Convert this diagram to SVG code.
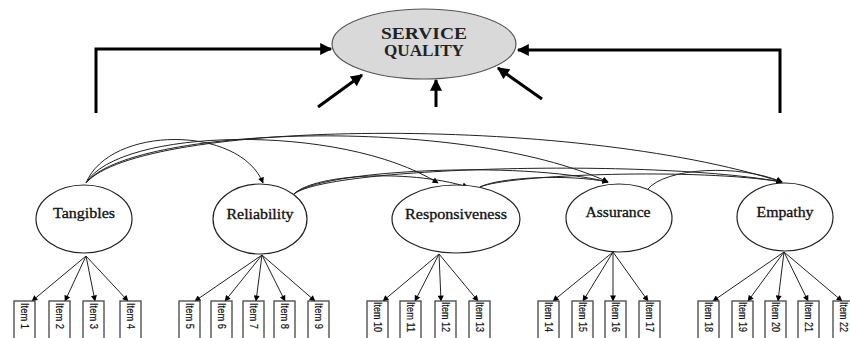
<svg xmlns="http://www.w3.org/2000/svg" width="850" height="338" viewBox="0 0 850 338">
<defs>
<style>
.big{fill:none;stroke:#000;stroke-width:3}
.cov{fill:none;stroke:#222;stroke-width:1}
.load{fill:none;stroke:#222;stroke-width:1}
.fac{fill:#fff;stroke:#222;stroke-width:1.2}
.ft{font-family:"Liberation Serif",serif;font-size:14px;fill:#111;stroke:#111;stroke-width:0.3;text-anchor:middle}
.sq{font-family:"Liberation Serif",serif;font-size:16px;font-weight:bold;fill:#222;text-anchor:middle}
.box{fill:#fff;stroke:#444;stroke-width:1.3}
.it{font-family:"Liberation Sans",sans-serif;font-size:10px;fill:#111;stroke:#111;stroke-width:0.2}
</style>
<marker id="bigA" viewBox="0 0 10 10" refX="9" refY="5" markerWidth="4.5" markerHeight="4" orient="auto" markerUnits="strokeWidth">
<path d="M0,0L10,5L0,10z" fill="#000"/>
</marker>
<marker id="smA" viewBox="0 0 10 10" refX="9" refY="5" markerWidth="7" markerHeight="6" orient="auto" markerUnits="userSpaceOnUse">
<path d="M0,0L10,5L0,10z" fill="#000"/>
</marker>
</defs>
<rect width="850" height="338" fill="#fff"/>

<g id="connectors">
<path class="big" d="M96,113V49H331" marker-end="url(#bigA)"/>
<path class="big" d="M780,113V50H518" marker-end="url(#bigA)"/>
<path class="big" d="M318,107L362,75" marker-end="url(#bigA)"/>
<path class="big" d="M436,107L436,80" marker-end="url(#bigA)"/>
<path class="big" d="M542,99L498,68" marker-end="url(#bigA)"/>

<path class="cov" d="M86,183C110,125 240,125 263,183" marker-end="url(#smA)"/>
<path class="cov" d="M86,183C118,128 340,122 438,183" marker-end="url(#smA)"/>
<path class="cov" d="M86,183C128,127 460,114 608,182" marker-end="url(#smA)"/>
<path class="cov" d="M86,183C140,120 570,114 782,182" marker-end="url(#smA)"/>
<path class="cov" d="M293,195C310,175 405,168 468,187" marker-end="url(#smA)"/>
<path class="cov" d="M293,195C315,170 520,160 608,182" marker-end="url(#smA)"/>
<path class="cov" d="M293,195C320,167 650,158 782,182" marker-end="url(#smA)"/>
<path class="cov" d="M480,187C500,177 570,174 608,182" marker-end="url(#smA)"/>
<path class="cov" d="M480,187C510,174 700,168 782,182" marker-end="url(#smA)"/>
<path class="cov" d="M647,190C665,167 740,164 782,182" marker-end="url(#smA)"/>

<path class="load" d="M86,256L32,301" marker-end="url(#smA)"/>
<path class="load" d="M86,256L65,301" marker-end="url(#smA)"/>
<path class="load" d="M86,256L95,301" marker-end="url(#smA)"/>
<path class="load" d="M86,256L128,301" marker-end="url(#smA)"/>

<path class="load" d="M262,255L195,301" marker-end="url(#smA)"/>
<path class="load" d="M262,255L225,301" marker-end="url(#smA)"/>
<path class="load" d="M262,255L256,301" marker-end="url(#smA)"/>
<path class="load" d="M262,255L285,301" marker-end="url(#smA)"/>
<path class="load" d="M262,255L315,301" marker-end="url(#smA)"/>

<path class="load" d="M439,254L383,301" marker-end="url(#smA)"/>
<path class="load" d="M439,254L415,301" marker-end="url(#smA)"/>
<path class="load" d="M439,254L441,301" marker-end="url(#smA)"/>
<path class="load" d="M439,254L478,301" marker-end="url(#smA)"/>

<path class="load" d="M613,252L553,301" marker-end="url(#smA)"/>
<path class="load" d="M613,252L583,301" marker-end="url(#smA)"/>
<path class="load" d="M613,252L613,301" marker-end="url(#smA)"/>
<path class="load" d="M613,252L648,301" marker-end="url(#smA)"/>

<path class="load" d="M784,252L713,301" marker-end="url(#smA)"/>
<path class="load" d="M784,252L748,301" marker-end="url(#smA)"/>
<path class="load" d="M784,252L778,301" marker-end="url(#smA)"/>
<path class="load" d="M784,252L808,301" marker-end="url(#smA)"/>
<path class="load" d="M784,252L842,301" marker-end="url(#smA)"/>
</g>

<g id="service-quality">
<ellipse cx="424" cy="44" rx="92" ry="35" fill="#d9d9d9" stroke="#555" stroke-width="1.2"/>
<text class="sq" x="424" y="39" textLength="86" lengthAdjust="spacingAndGlyphs">SERVICE</text>
<text class="sq" x="424" y="56" textLength="80" lengthAdjust="spacingAndGlyphs">QUALITY</text>
</g>

<g id="tangibles">
<ellipse class="fac" cx="84" cy="219" rx="48" ry="34"/>
<text class="ft" x="84" y="218" textLength="62" lengthAdjust="spacingAndGlyphs">Tangibles</text>
</g>
<g id="reliability">
<ellipse class="fac" cx="260" cy="219" rx="47" ry="35"/>
<text class="ft" x="260" y="219" textLength="67" lengthAdjust="spacingAndGlyphs">Reliability</text>
</g>
<g id="responsiveness">
<ellipse class="fac" cx="456" cy="219" rx="64" ry="34"/>
<text class="ft" x="456" y="219" textLength="102" lengthAdjust="spacingAndGlyphs">Responsiveness</text>
</g>
<g id="assurance">
<ellipse class="fac" cx="619" cy="218" rx="53" ry="34"/>
<text class="ft" x="618" y="217" textLength="65" lengthAdjust="spacingAndGlyphs">Assurance</text>
</g>
<g id="empathy">
<ellipse class="fac" cx="785" cy="217" rx="48" ry="34"/>
<text class="ft" x="785" y="217" textLength="57" lengthAdjust="spacingAndGlyphs">Empathy</text>
</g>

<g id="item1"><rect class="box" x="14" y="301" width="21" height="40"/><text class="it" transform="translate(21,303) rotate(90)" textLength="26" lengthAdjust="spacingAndGlyphs">Item 1</text></g>
<g id="item2"><rect class="box" x="49" y="301" width="21" height="40"/><text class="it" transform="translate(56,303) rotate(90)" textLength="26" lengthAdjust="spacingAndGlyphs">Item 2</text></g>
<g id="item3"><rect class="box" x="83" y="301" width="21" height="40"/><text class="it" transform="translate(90,303) rotate(90)" textLength="26" lengthAdjust="spacingAndGlyphs">Item 3</text></g>
<g id="item4"><rect class="box" x="120" y="301" width="21" height="40"/><text class="it" transform="translate(127,303) rotate(90)" textLength="26" lengthAdjust="spacingAndGlyphs">Item 4</text></g>
<g id="item5"><rect class="box" x="179" y="301" width="21" height="40"/><text class="it" transform="translate(186,303) rotate(90)" textLength="26" lengthAdjust="spacingAndGlyphs">Item 5</text></g>
<g id="item6"><rect class="box" x="211" y="301" width="21" height="40"/><text class="it" transform="translate(218,303) rotate(90)" textLength="26" lengthAdjust="spacingAndGlyphs">Item 6</text></g>
<g id="item7"><rect class="box" x="243" y="301" width="21" height="40"/><text class="it" transform="translate(250,303) rotate(90)" textLength="26" lengthAdjust="spacingAndGlyphs">Item 7</text></g>
<g id="item8"><rect class="box" x="274" y="301" width="21" height="40"/><text class="it" transform="translate(281,303) rotate(90)" textLength="26" lengthAdjust="spacingAndGlyphs">Item 8</text></g>
<g id="item9"><rect class="box" x="308" y="301" width="21" height="40"/><text class="it" transform="translate(315,303) rotate(90)" textLength="26" lengthAdjust="spacingAndGlyphs">Item 9</text></g>
<g id="item10"><rect class="box" x="367" y="301" width="21" height="40"/><text class="it" transform="translate(374,302) rotate(90)" textLength="30" lengthAdjust="spacingAndGlyphs">Item 10</text></g>
<g id="item11"><rect class="box" x="400" y="301" width="21" height="40"/><text class="it" transform="translate(407,302) rotate(90)" textLength="30" lengthAdjust="spacingAndGlyphs">Item 11</text></g>
<g id="item12"><rect class="box" x="435" y="301" width="21" height="40"/><text class="it" transform="translate(442,302) rotate(90)" textLength="30" lengthAdjust="spacingAndGlyphs">Item 12</text></g>
<g id="item13"><rect class="box" x="469" y="301" width="21" height="40"/><text class="it" transform="translate(476,302) rotate(90)" textLength="30" lengthAdjust="spacingAndGlyphs">Item 13</text></g>
<g id="item14"><rect class="box" x="538" y="301" width="21" height="40"/><text class="it" transform="translate(545,302) rotate(90)" textLength="30" lengthAdjust="spacingAndGlyphs">Item 14</text></g>
<g id="item15"><rect class="box" x="572" y="301" width="21" height="40"/><text class="it" transform="translate(579,302) rotate(90)" textLength="30" lengthAdjust="spacingAndGlyphs">Item 15</text></g>
<g id="item16"><rect class="box" x="605" y="301" width="21" height="40"/><text class="it" transform="translate(612,302) rotate(90)" textLength="30" lengthAdjust="spacingAndGlyphs">Item 16</text></g>
<g id="item17"><rect class="box" x="639" y="301" width="21" height="40"/><text class="it" transform="translate(646,302) rotate(90)" textLength="30" lengthAdjust="spacingAndGlyphs">Item 17</text></g>
<g id="item18"><rect class="box" x="698" y="301" width="21" height="40"/><text class="it" transform="translate(705,302) rotate(90)" textLength="30" lengthAdjust="spacingAndGlyphs">Item 18</text></g>
<g id="item19"><rect class="box" x="732" y="301" width="21" height="40"/><text class="it" transform="translate(739,302) rotate(90)" textLength="30" lengthAdjust="spacingAndGlyphs">Item 19</text></g>
<g id="item20"><rect class="box" x="765" y="301" width="21" height="40"/><text class="it" transform="translate(772,302) rotate(90)" textLength="30" lengthAdjust="spacingAndGlyphs">Item 20</text></g>
<g id="item21"><rect class="box" x="798" y="301" width="21" height="40"/><text class="it" transform="translate(805,302) rotate(90)" textLength="30" lengthAdjust="spacingAndGlyphs">Item 21</text></g>
<g id="item22"><rect class="box" x="833" y="301" width="21" height="40"/><text class="it" transform="translate(840,302) rotate(90)" textLength="30" lengthAdjust="spacingAndGlyphs">Item 22</text></g>
</svg>
